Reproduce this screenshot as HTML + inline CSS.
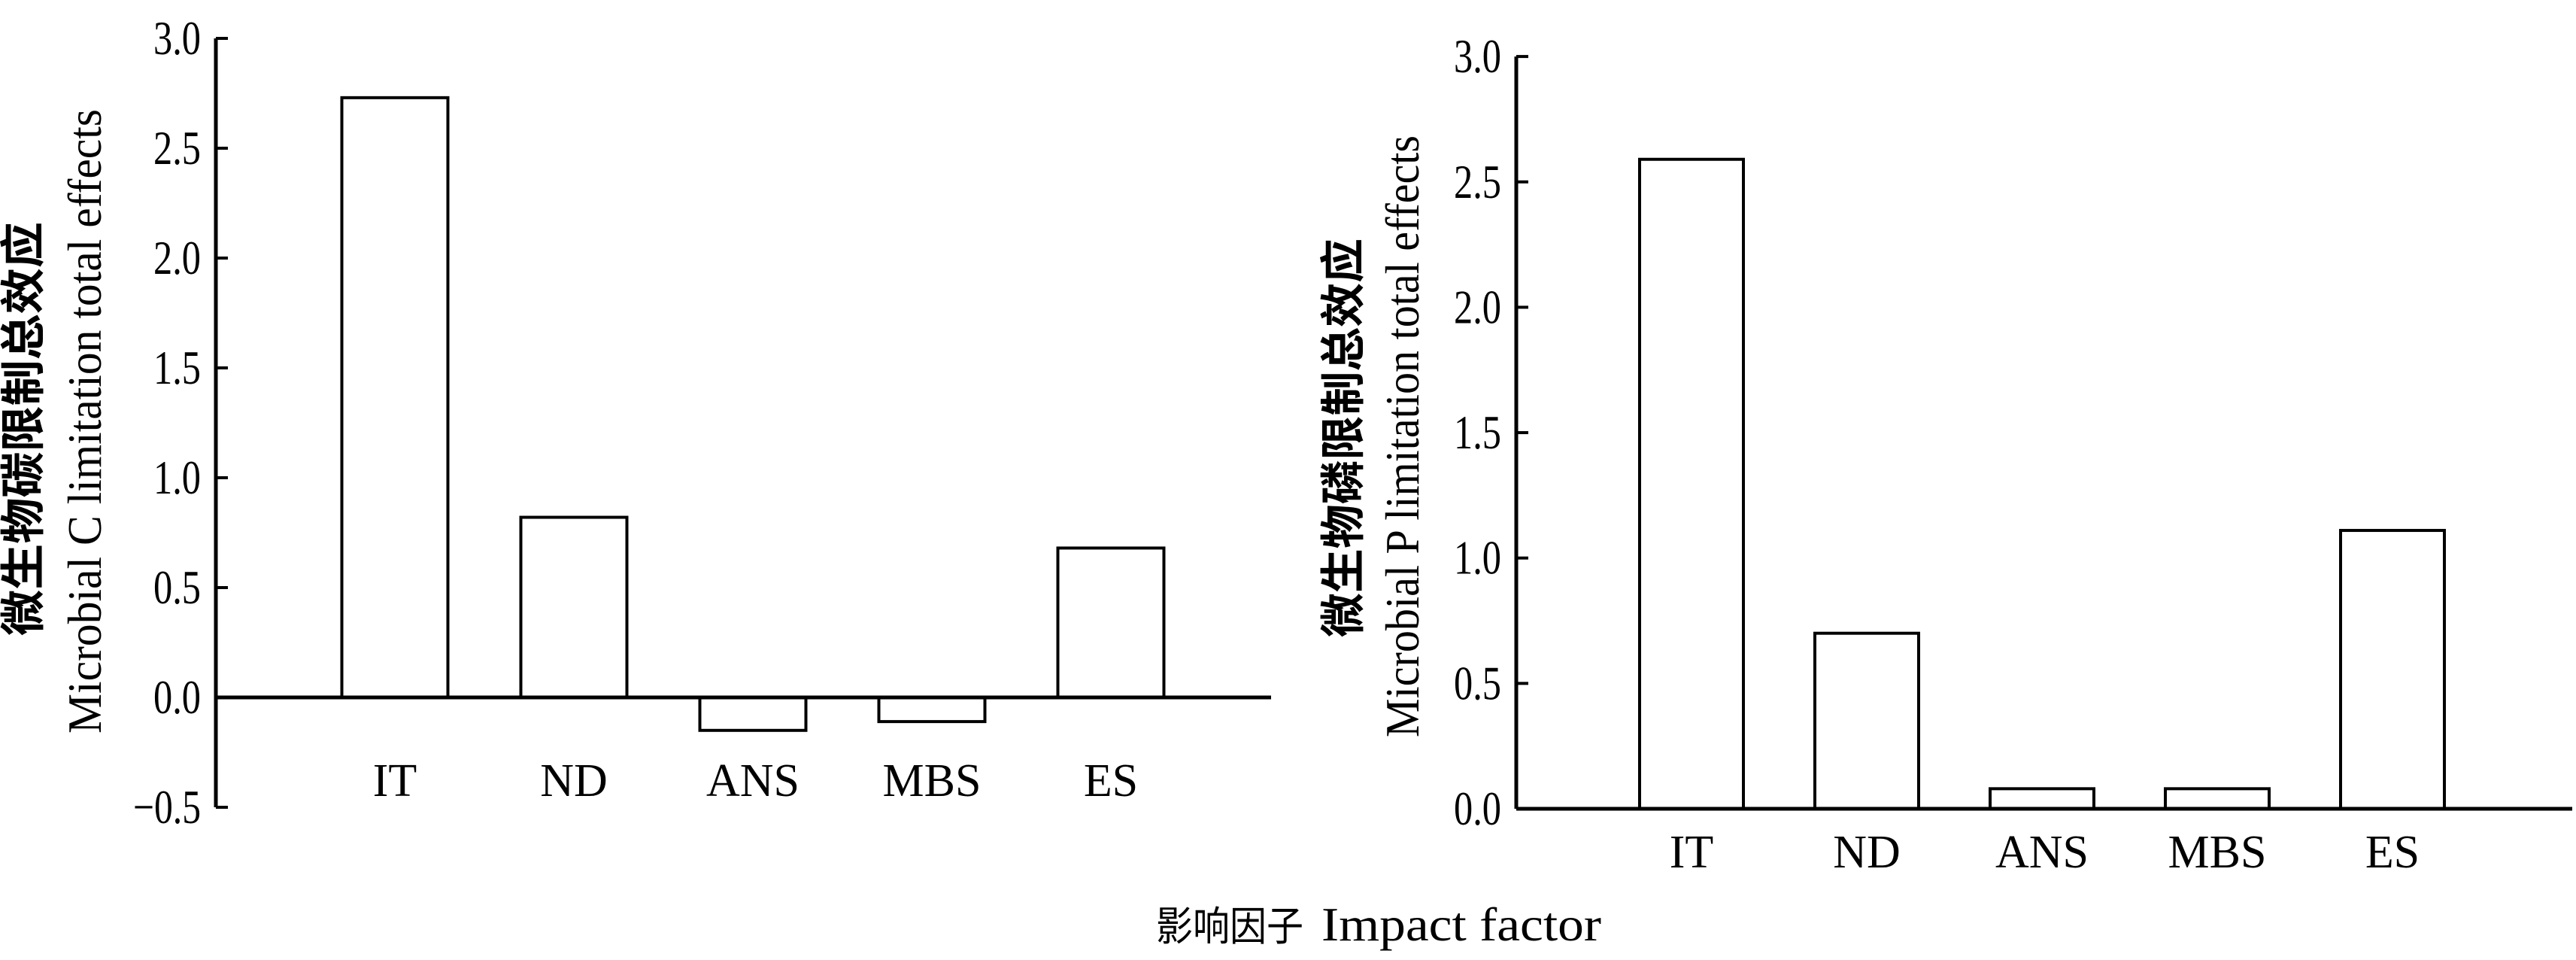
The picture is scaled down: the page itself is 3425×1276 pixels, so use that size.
<!DOCTYPE html>
<html><head><meta charset="utf-8"><style>
html,body{margin:0;padding:0;background:#fff;}
svg{display:block;}
text{font-family:"Liberation Serif","Noto Serif CJK SC",serif;fill:#000;}
.cjk{font-family:"Liberation Serif","Noto Sans CJK SC",sans-serif;font-weight:bold;}
.cjkn{font-family:"Liberation Serif","Noto Sans CJK SC",sans-serif;font-weight:normal;}
</style></head><body>
<svg id="chart" width="3425" height="1276" viewBox="0 0 3425 1276" xmlns="http://www.w3.org/2000/svg">
<g id="left"></g>
<g id="right"></g>
<g>
<text class="cjkn" x="1537" y="1250" font-size="54" textLength="196" lengthAdjust="spacingAndGlyphs">影响因子</text>
<text x="1757" y="1250" font-size="64" textLength="372" lengthAdjust="spacingAndGlyphs">Impact factor</text>
</g>
</svg>
<script>
const categories = ["IT","ND","ANS","MBS","ES"];
const cValues = [2.73, 0.82, -0.15, -0.11, 0.68];
const pValues = [2.59, 0.70, 0.08, 0.08, 1.11];
const cTicks = [3.0, 2.5, 2.0, 1.5, 1.0, 0.5, 0.0, -0.5];
const pTicks = [3.0, 2.5, 2.0, 1.5, 1.0, 0.5, 0.0];
const cTickLabels = ["3.0","2.5","2.0","1.5","1.0","0.5","0.0","\u22120.5"];
const pTickLabels = ["3.0","2.5","2.0","1.5","1.0","0.5","0.0"];

const NS = "http://www.w3.org/2000/svg";
function mk(parent, tag, attrs){const e=document.createElementNS(NS,tag);for(const k in attrs)e.setAttribute(k,attrs[k]);parent.appendChild(e);return e;}

function panel(g, cfg, values, ticks, labels){
  const y = v => cfg.y0 - (v - 0) * cfg.pxPerUnit;
  const x = i => cfg.ax + (i + 1) * cfg.step;
  const yTop = y(ticks[0]), yBot = y(ticks[ticks.length-1]);
  const axis = mk(g,'line',{x1:cfg.ax,y1:yTop,x2:cfg.ax,y2:yBot,stroke:'#000','stroke-width':5});
  
  
  ticks.forEach((t,i)=>{
    const tk = mk(g,'line',{x1:cfg.ax,y1:y(t),x2:cfg.ax+16,y2:y(t),stroke:'#000','stroke-width':4});
    
    
    const txt = labels[i];
    const tl = mk(g,'text',{x:cfg.ax-20,y:y(t)+21,'text-anchor':'end','font-size':64,textLength:txt.length*21+(txt.length>3?6:0),lengthAdjust:'spacingAndGlyphs'});
    
    
    tl.textContent = txt;
  });
  values.forEach((v,i)=>{
    const top = Math.min(y(v), y(0)), h = Math.abs(y(v)-y(0));
    const r = mk(g,'rect',{x:x(i)-cfg.bw/2,y:top,width:cfg.bw,height:h,fill:'#fff',stroke:'#000','stroke-width':4});
    
    
    const cl = mk(g,'text',{x:x(i),y:cfg.labelY,'text-anchor':'middle','font-size':62});
    
    
    cl.textContent = categories[i];
  });
  const zl = mk(g,'line',{x1:cfg.ax,y1:y(0),x2:cfg.zeroEnd,y2:y(0),stroke:'#000','stroke-width':5});
  
  
  const t1 = mk(g,'text',{transform:`translate(${cfg.cjkX},${cfg.cjkY}) rotate(-90)`,'text-anchor':'middle','font-size':60,class:'cjk',textLength:cfg.cnLen,lengthAdjust:'spacingAndGlyphs'});
  
  
  t1.textContent = cfg.cn;
  const t2 = mk(g,'text',{transform:`translate(${cfg.enX},${cfg.enY}) rotate(-90)`,'text-anchor':'middle','font-size':64,textLength:cfg.enLen,lengthAdjust:'spacingAndGlyphs'});
  
  
  t2.textContent = cfg.en;
}

panel(document.getElementById('left'),
  {ax:287,y0:927,pxPerUnit:292,step:238,bw:141,zeroEnd:1690,labelY:1058,
   cjkX:52,cjkY:570,cnLen:550,enX:134,enY:560,enLen:830,
   cn:"微生物碳限制总效应",en:"Microbial C limitation total effects"},
  cValues,cTicks,cTickLabels);
panel(document.getElementById('right'),
  {ax:2016,y0:1075,pxPerUnit:333.3,step:233,bw:138,zeroEnd:3420,labelY:1153,
   cjkX:1807,cjkY:582,cnLen:530,enX:1886,enY:580,enLen:800,
   cn:"微生物磷限制总效应",en:"Microbial P limitation total effects"},
  pValues,pTicks,pTickLabels);
</script>
</body></html>
